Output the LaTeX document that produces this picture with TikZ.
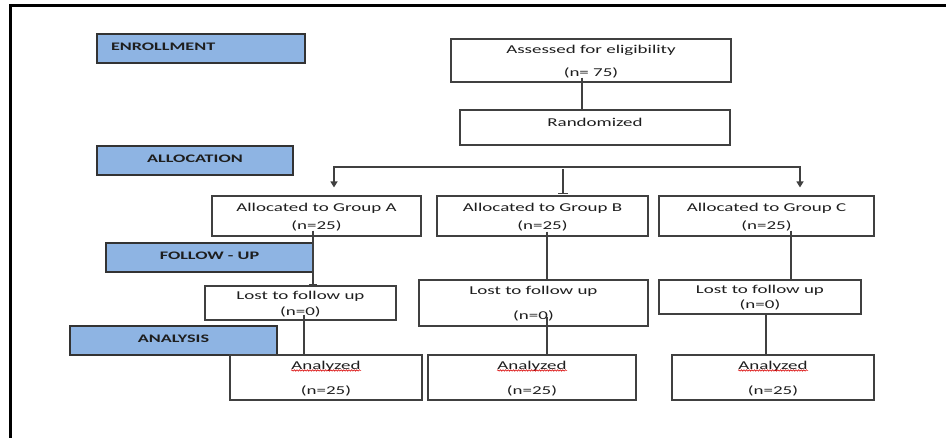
\documentclass[tikz,border=0pt]{standalone}
\usepackage{fontspec}
\setmainfont{Carlito}[FakeStretch=1.58]
\usetikzlibrary{arrows.meta,calc,decorations.pathmorphing}
\definecolor{lblblue}{RGB}{142,180,227}
\definecolor{edgegray}{RGB}{64,64,64}
\definecolor{ink}{RGB}{30,30,30}
\newcommand\tstrutA{\rule[-4.32pt]{0pt}{17.1pt}}
\begin{document}
\begin{tikzpicture}[x=1pt,y=-1pt,
  box/.style={draw=edgegray, line width=1.1pt, fill=white, inner sep=0pt, align=center, text=ink,
              font=\fontsize{12}{14.4}\selectfont},
  lbl/.style={draw=black!80, line width=1.1pt, fill=lblblue, inner sep=0pt, text=ink,
              font=\fontsize{11.5}{13.8}\selectfont\bfseries},
  link/.style={draw=edgegray, line width=1.3pt},
  squig/.style={draw=red!85!black, line width=0.6pt, decorate,
                decoration={snake, amplitude=0.7pt, segment length=2.6pt}}]
\useasboundingbox (0,0) rectangle (946,438);
% frame (top and left edges)
\draw[black, line width=2.6pt] (10.3,438) -- (10.3,5.3) -- (946,5.3);

% stage labels
\node[lbl, minimum width=208pt, minimum height=29pt] (enroll) at (201,48.5)
  {\makebox[208pt][l]{\hspace{14pt}\raisebox{3pt}{ENROLLMENT}}};
\node[lbl, minimum width=196pt, minimum height=29pt] (alloc) at (195,160.5)
  {\raisebox{3pt}{ALLOCATION}};
\node[lbl, minimum width=207pt, minimum height=29pt] (follow) at (209.5,257.5)
  {\raisebox{3pt}{FOLLOW - UP}};
\node[lbl, minimum width=207pt, minimum height=29pt] (analysis) at (173.5,340.5)
  {\raisebox{3pt}{ANALYSIS}};

% flow boxes
\node[box, minimum width=280pt, minimum height=43pt] (assess) at (591,60.5)
  {\tstrutA Assessed for eligibility\\[8.6pt]\strut (n= 75)};
\node[box, minimum width=270pt, minimum height=35pt] (rand) at (595,127.5)
  {\raisebox{4pt}[10.08pt][4.32pt]{Randomized}};

\node[box, minimum width=209pt, minimum height=40pt] (grpA) at (316.5,216)
  {\tstrutA Allocated to Group A\\[3.6pt]\strut (n=25)};
\node[box, minimum width=211pt, minimum height=40pt] (grpB) at (542.5,216)
  {\tstrutA Allocated to Group B\\[3.6pt]\strut (n=25)};
\node[box, minimum width=215pt, minimum height=40pt] (grpC) at (766.5,216)
  {\tstrutA Allocated to Group C\\[3.6pt]\strut (n=25)};

\node[box, minimum width=191pt, minimum height=34pt] (lostA) at (300.5,303)
  {\tstrutA Lost to follow up\\[1.6pt]\strut (n=0)};
\node[box, minimum width=229pt, minimum height=46pt] (lostB) at (533.5,303)
  {\tstrutA Lost to follow up\\[10.6pt]\strut (n=0)};
\node[box, minimum width=202pt, minimum height=34pt] (lostC) at (760,297)
  {\tstrutA Lost to follow up\\[0.6pt]\strut (n=0)};

\node[box, minimum width=192pt, minimum height=45pt] (anaA) at (326,377.5)
  {\tstrutA Analyzed\\[10.6pt]\strut (n=25)};
\node[box, minimum width=208pt, minimum height=45pt] (anaB) at (532,377.5)
  {\tstrutA Analyzed\\[10.6pt]\strut (n=25)};
\node[box, minimum width=202pt, minimum height=45pt] (anaC) at (773,377.5)
  {\tstrutA Analyzed\\[10.6pt]\strut (n=25)};

% spell-check squiggles under "Analyzed"
\draw[squig] ($(anaA.north)+(-35,16)$) -- ++(70,0);
\draw[squig] ($(anaB.north)+(-35,16)$) -- ++(70,0);
\draw[squig] ($(anaC.north)+(-35,16)$) -- ++(70,0);

% connectors
\coordinate (xe) at (582,0);
\draw[link] ($(assess.south -| xe)+(0,-5)$) -- (rand.north -| xe);

\coordinate (sL) at (334,167);
\coordinate (sR) at (800,167);
\coordinate (sM) at (563,169);
\draw[link, {Triangle[width=7pt,length=6pt]}-{Triangle[width=7pt,length=6pt]},
      shorten <=8pt, shorten >=8pt]
  (grpA.north -| sL) -- (sL) -- (sR) -- (grpC.north -| sR);
\draw[link, -{Bar[width=10pt]}] (sM) -- ($(grpB.north -| sM)+(0,-1)$);

\coordinate (xa1) at (313,0);
\coordinate (xa2) at (304,0);
\coordinate (xb) at (547,0);
\coordinate (xc1) at (791,0);
\coordinate (xc2) at (766,0);
\draw[link, -{Bar[width=8pt]}] ($(grpA.south -| xa1)+(0,-6)$) -- (lostA.north -| xa1);
\draw[link] ($(lostA.south -| xa2)+(0,-6)$) -- (anaA.north -| xa2);
\draw[link] ($(grpB.south -| xb)+(0,-5)$) -- (lostB.north -| xb);
\draw[link] ($(lostB.south -| xb)+(0,-10)$) -- (anaB.north -| xb);
\draw[link] ($(grpC.south -| xc1)+(0,-6)$) -- (lostC.north -| xc1);
\draw[link] (lostC.south -| xc2) -- (anaC.north -| xc2);
\end{tikzpicture}
\end{document}
